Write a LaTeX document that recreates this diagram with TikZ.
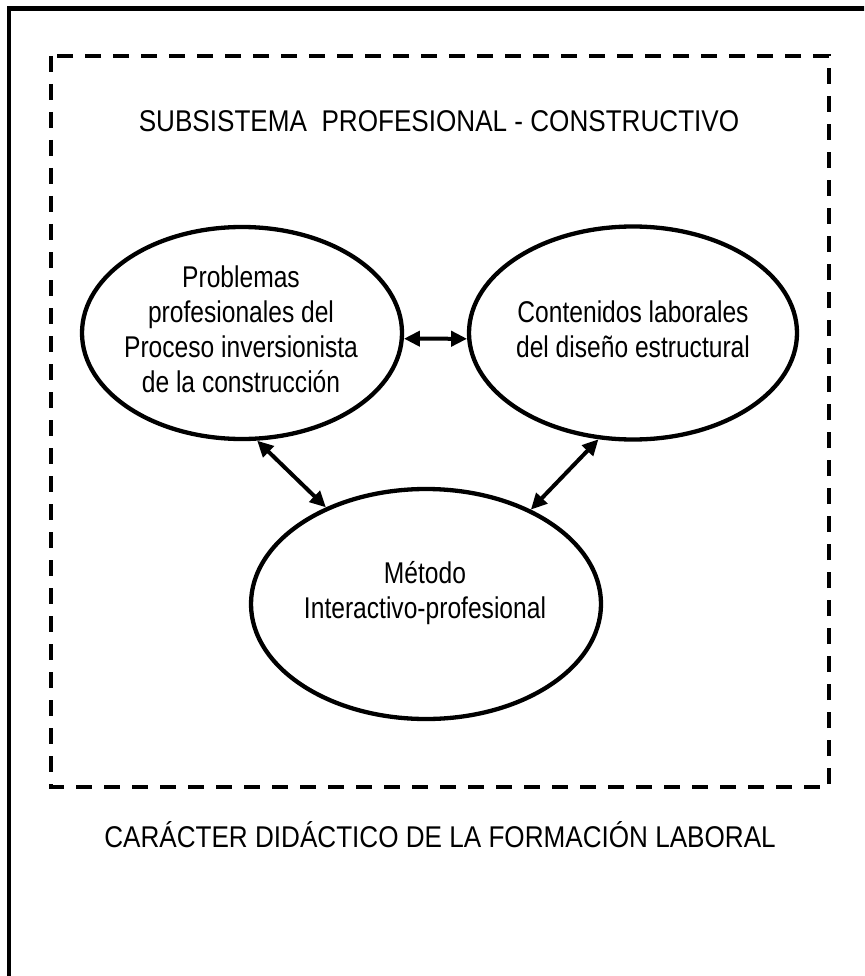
\documentclass[tikz,border=0pt]{standalone}
\usepackage{fontspec}
\setmainfont{Liberation Sans}[FakeStretch=0.82]
\newfontfamily\capsfont{Liberation Sans}[FakeStretch=0.87]
\usetikzlibrary{shapes.geometric,arrows.meta}
\begin{document}
\begin{tikzpicture}[x=1pt,y=-1pt,
  oval/.style={ellipse,draw,line width=4.3pt,inner sep=0pt},
  txt/.style={align=center,inner sep=0pt,font=\fontsize{30}{35}\selectfont},
  link/.style={{Triangle[length=16pt,width=15pt]}-{Triangle[length=16pt,width=15pt]},line width=4pt},
  title/.style={anchor=base,inner sep=0pt,font=\capsfont\fontsize{30}{35}\selectfont}]
\clip (0,0) rectangle (864,976);
\draw[line width=4.5pt] (9,8.5) rectangle (880,995);
\draw[line width=4pt,dash pattern=on 16pt off 12pt] (51,56) rectangle (829,787);
\node[title] (sub) at (439,132) {SUBSISTEMA\ \ PROFESIONAL - CONSTRUCTIVO};
\node[title] (car) at (440,847) {CARÁCTER DIDÁCTICO DE LA FORMACIÓN LABORAL};
\node[oval,minimum width=320pt,minimum height=212pt] (L) at (242,333) {};
\node[oval,minimum width=328pt,minimum height=213pt] (R) at (633,333) {};
\node[oval,minimum width=350pt,minimum height=230pt] (M) at (426,604) {};
\node[txt] (Lt) at (241,329.5) {Problemas\\profesionales del\\Proceso inversionista\\de la construcción};
\node[txt] (Rt) at (633,329) {Contenidos laborales\\del diseño estructural};
\node[txt] (Mt) at (425,593) {Método\\Interactivo-profesional};
\draw[link] (L.-2) -- (R.182);
\draw[link] (L.-82) -- (M.136.5);
\draw[link] (R.252.7) -- (M.42.7);
\end{tikzpicture}
\end{document}
